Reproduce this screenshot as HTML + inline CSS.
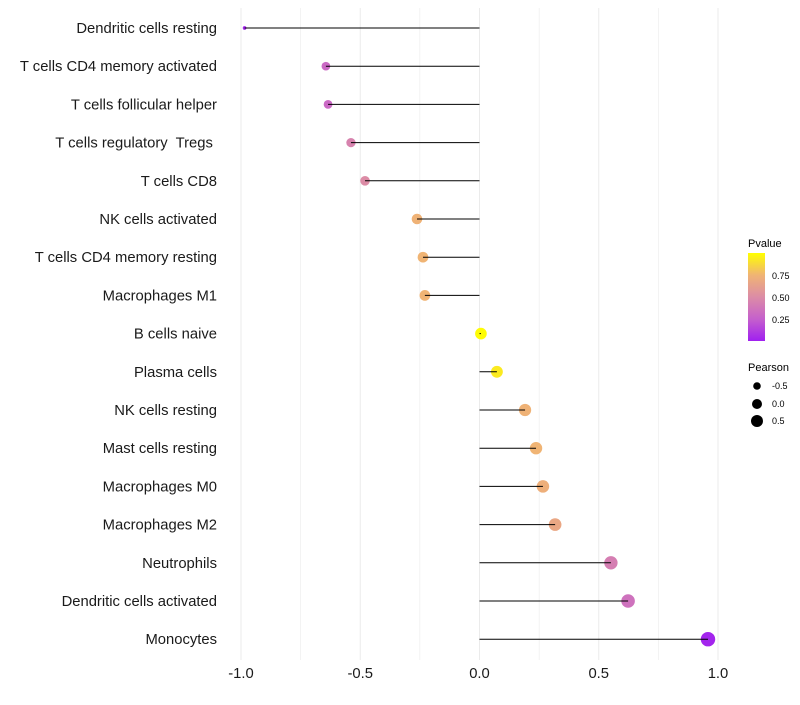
<!DOCTYPE html>
<html><head><meta charset="utf-8"><style>
body{margin:0;background:#fff;font-family:"Liberation Sans",sans-serif;}
</style></head><body>
<svg id="chart" width="800" height="700" xmlns="http://www.w3.org/2000/svg" font-family="Liberation Sans, sans-serif">
<g id="grid"></g>
<g id="marks"></g>
<g id="ylabels"></g>
<g id="xlabels"></g>
<g id="legend">
<defs><linearGradient id="pg" x1="0" y1="1" x2="0" y2="0">
<stop offset="0" stop-color="#A020F0"/><stop offset="0.25" stop-color="#C560CC"/><stop offset="0.5" stop-color="#DC8CA6"/><stop offset="0.75" stop-color="#F0B474"/><stop offset="1" stop-color="#FFFF00"/></linearGradient></defs>
<text x="748" y="247" font-size="11">Pvalue</text>
<rect x="748" y="253" width="17" height="88" fill="url(#pg)"/>
<text x="772" y="279" font-size="9">0.75</text>
<text x="772" y="301" font-size="9">0.50</text>
<text x="772" y="323" font-size="9">0.25</text>
<text x="748" y="371" font-size="11">Pearson</text>
<circle cx="757" cy="386" r="3.8" fill="#000"/>
<circle cx="757" cy="404" r="5" fill="#000"/>
<circle cx="757" cy="421" r="6" fill="#000"/>
<text x="772" y="389" font-size="9">-0.5</text>
<text x="772" y="407" font-size="9">0.0</text>
<text x="772" y="424" font-size="9">0.5</text>
</g>
</svg>
<script>
const categories=["Dendritic cells resting","T cells CD4 memory activated","T cells follicular helper","T cells regulatory  Tregs ","T cells CD8","NK cells activated","T cells CD4 memory resting","Macrophages M1","B cells naive","Plasma cells","NK cells resting","Mast cells resting","Macrophages M0","Macrophages M2","Neutrophils","Dendritic cells activated","Monocytes"];
const pearson=[-0.985,-0.644,-0.635,-0.539,-0.48,-0.262,-0.237,-0.229,0.006,0.073,0.191,0.237,0.266,0.317,0.551,0.623,0.958];
const pvalue=[0.02,0.3,0.3,0.45,0.5,0.74,0.75,0.75,0.99,0.93,0.74,0.75,0.72,0.67,0.42,0.35,0.02];
const xTicks=[-1,-0.5,0,0.5,1];
const xTickLabels=["-1.0","-0.5","0.0","0.5","1.0"];
const NS="http://www.w3.org/2000/svg";
const xs=v=>479.5+v*238.5;
const ys=i=>28+i*38.2;
const stops=[[0,[160,32,240]],[0.25,[197,96,204]],[0.5,[220,140,166]],[0.75,[240,180,116]],[1,[255,255,0]]];
function col(p){for(let k=1;k<stops.length;k++){if(p<=stops[k][0]){const a=stops[k-1],b=stops[k],t=(p-a[0])/(b[0]-a[0]);return 'rgb('+a[1].map((c,j)=>Math.round(c+(b[1][j]-c)*t)).join(',')+')';}}return 'rgb(255,255,0)';}
function mk(tag,attrs,parent){const e=document.createElementNS(NS,tag);for(const k in attrs)e.setAttribute(k,attrs[k]);document.getElementById(parent).appendChild(e);return e;}
for(let g=-1;g<=1.001;g+=0.25){const l=mk('line',{x1:xs(g),x2:xs(g),y1:8,y2:660,stroke:'#ebebeb','stroke-width':g%0.5===0?1:0.6},'grid');

}
categories.forEach((c,i)=>{
const y=ys(i);
const r=Math.max(1.5,2.2+3.6*Math.sqrt(Math.max(0,pearson[i]+1))-0.8*(pearson[i]<-0.9?1:0));
const p=mk('circle',{cx:xs(pearson[i]),cy:y,r:r,fill:col(pvalue[i]),'fill-opacity':1},'marks');


const s=mk('line',{x1:xs(0),x2:xs(pearson[i]),y1:y,y2:y,stroke:'#000','stroke-width':1},'marks');


const t=mk('text',{x:217,y:y+5,'text-anchor':'end','font-size':14.8,fill:'#1a1a1a'},'ylabels');
t.textContent=c;t.setAttribute('xml:space','preserve');t.style.whiteSpace='pre';


});
xTicks.forEach((v,i)=>{const t=mk('text',{x:xs(v),y:678,'text-anchor':'middle','font-size':14.8,fill:'#1a1a1a'},'xlabels');
t.textContent=xTickLabels[i];

});
</script>
</body></html>
